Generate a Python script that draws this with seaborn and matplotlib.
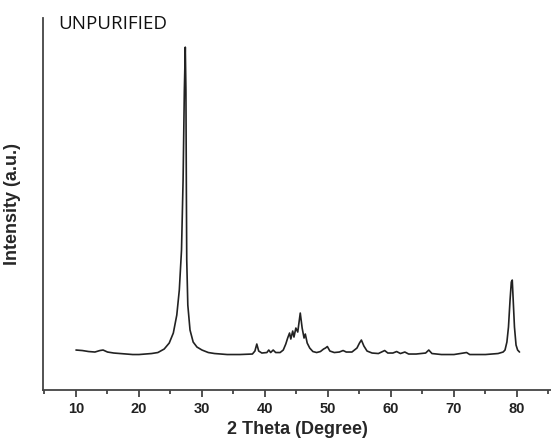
import matplotlib
matplotlib.use('Agg')
import matplotlib.pyplot as plt
import pandas as pd
import seaborn as sns

# XRD pattern
two_theta = [10, 11, 12, 13, 13.8, 14.3, 15, 16, 17, 18, 19, 20, 21, 22, 23, 24, 24.8,
             25.45, 26.0, 26.4, 26.75, 27.0, 27.2, 27.35, 27.45, 27.52, 27.58, 27.75,
             28.1, 28.6, 29.2, 30, 31, 32, 34, 36, 38, 38.4, 38.7, 39.0, 39.5, 40.3,
             40.6, 40.9, 41.3, 41.7, 42.4, 42.9, 43.3, 43.6, 43.9, 44.1, 44.4, 44.6,
             44.9, 45.2, 45.6, 45.9, 46.2, 46.4, 46.7, 47.1, 47.6, 48.2, 48.8, 49.3,
             49.6, 49.9, 50.3, 51, 51.8, 52.4, 52.9, 53.8, 54.6, 55.0, 55.3, 55.7,
             56.2, 57, 58, 59, 59.5, 60.3, 60.9, 61.5, 62.2, 62.8, 64, 65.5, 66.0,
             66.5, 68, 70, 72.0, 72.5, 75, 77, 77.8, 78.1, 78.4, 78.65, 78.9, 79.1,
             79.25, 79.4, 79.6, 79.85, 80.1, 80.4]
intensity = [40, 39.5, 38.5, 38, 39.5, 40, 38, 37, 36.5, 36, 35.5, 35.5, 36, 36.5, 37.5,
             41, 47, 57, 75, 100, 140, 210, 300, 343, 300, 200, 130, 85, 60, 48, 43,
             40, 37.5, 36.5, 35.5, 35.5, 36, 39, 46, 39, 37, 37.5, 40, 37.5, 40, 37.5,
             37.5, 40, 46, 52, 57, 51, 59, 53, 62, 58, 77, 62, 52, 56, 47, 42, 38.5,
             37.5, 38.5, 41, 42, 43.5, 39, 37.5, 38, 39.5, 38, 38, 42, 47, 50, 44, 39,
             37, 36.5, 39.5, 37, 37, 38.5, 36.5, 38, 36, 36, 37, 40, 36.5, 35.5, 35.5,
             37.5, 35.5, 35.5, 36.5, 38, 40, 48, 63, 90, 108, 110, 90, 63, 45, 40, 38]

x_ticks = [10, 20, 30, 40, 50, 60, 70, 80]
x_minor = [5, 15, 25, 35, 45, 55, 65, 75, 85]

df = pd.DataFrame({'two_theta': two_theta, 'intensity': intensity})

sns.set_style('ticks')
plt.rcParams['font.family'] = ['Liberation Sans', 'DejaVu Sans']

fig = plt.figure(figsize=(5.51, 4.44), dpi=100)
ax = fig.add_axes([0.078, 0.1216, 0.922, 0.8374])

sns.lineplot(data=df, x='two_theta', y='intensity', color='#222222',
             linewidth=1.2, ax=ax, sort=False)

ax.set_xlim(4.76, 85.4)
ax.set_ylim(0, 372)
ax.set_xticks(x_ticks)
ax.set_xticks(x_minor, minor=True)
ax.set_yticks([])
ax.tick_params(axis='x', which='major', direction='out', length=5, width=1.2,
               colors='#333333', labelsize=10.5)
ax.tick_params(axis='x', which='minor', direction='out', length=3, width=1.2,
               colors='#333333')
for lbl in ax.get_xticklabels():
    lbl.set_fontweight('bold')
    lbl.set_color('#222222')

sns.despine(ax=ax)
for side in ['left', 'bottom']:
    ax.spines[side].set_linewidth(1.3)
    ax.spines[side].set_color('#444444')

ax.set_xlabel('2 Theta (Degree)', fontsize=13, fontweight='bold', labelpad=4)
ax.set_ylabel('Intensity (a.u.)', fontsize=13, fontweight='bold', labelpad=16)

fig.text(0.105, 0.934, 'UNPURIFIED', fontsize=13.5, family=['Open Sans', 'DejaVu Sans'],
         color='#111111')

fig.savefig('out.png', dpi=100)
